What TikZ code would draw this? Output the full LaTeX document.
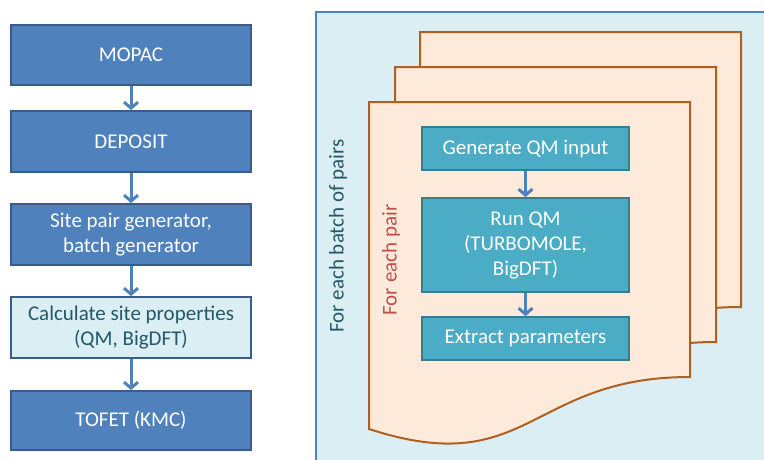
\documentclass[tikz,border=0pt]{standalone}
\usepackage{fontspec}
\setmainfont{Carlito}
\usetikzlibrary{arrows.meta,positioning}
\definecolor{boxblue}{HTML}{4F81BD}
\definecolor{boxline}{HTML}{385D8A}
\definecolor{paleblue}{HTML}{DBEEF4}
\definecolor{darkslate}{HTML}{215968}
\definecolor{pagefill}{HTML}{FDEADA}
\definecolor{pageline}{HTML}{B0601E}
\definecolor{tealbox}{HTML}{4BACC6}
\definecolor{tealline}{HTML}{357D91}
\definecolor{pairred}{HTML}{C0504D}
\tikzset{
  stage/.style={draw=boxline, line width=1.8pt, fill=boxblue, text=white,
    minimum width=240pt, minimum height=60pt, align=center, inner sep=0pt},
  lightstage/.style={stage, fill=paleblue, text=darkslate},
  qmstep/.style={draw=tealline, line width=1.8pt, fill=tealbox, text=white,
    minimum width=207pt, minimum height=43pt, align=center, inner sep=0pt},
  page/.style={draw=pageline, line width=2pt, fill=pagefill},
  flow/.style={draw=boxblue, line width=3pt, -{Straight Barb[length=6pt,width=14pt]}}
}
\begin{document}
\begin{tikzpicture}[x=1pt, y=-1pt, font=\fontsize{21}{25}\selectfont]
    \useasboundingbox (0,0) rectangle (764,459);

    % Left chain
    \node[stage] (mopac) at (131,55) {MOPAC};
    \node[stage, minimum height=61pt] (deposit) at (131,141.5) {DEPOSIT};
    \node[stage, minimum height=61pt] (pairgen) at (131,234.5) {Site pair generator,\\batch generator};
    \node[lightstage, minimum height=61pt] (siteprop) at (131,327.5) {Calculate site properties\\(QM, BigDFT)};
    \node[stage, minimum height=59pt] (tofet) at (131,420.5) {TOFET (KMC)};

    \draw[flow] (mopac) -- (deposit);
    \draw[flow] (deposit) -- (pairgen);
    \draw[flow] (pairgen) -- (siteprop);
    \draw[flow] (siteprop) -- (tofet);

    % Batch panel
    \draw[draw=boxblue, line width=1.8pt, fill=paleblue] (316,12) rectangle (780,475);
    \node[rotate=90, text=darkslate] (batchlabel) at (338,236) {For each batch of pairs};

    % Stacked pages
    \foreach \dx/\dy in {51/70, 26/35, 0/0} {
      \begin{scope}[shift={(\dx,-\dy)}]
        \draw[page] (369,102) -- (690,102) -- (690,377)
          .. controls (529,377) and (529,481) .. (369,429) -- cycle;
      \end{scope}
    }
    \node[rotate=90, text=pairred] (pairlabel) at (391,260) {For each pair};

    % QM steps
    \node[qmstep] (genqm) at (525.5,148.5) {Generate QM input};
    \node[qmstep, minimum height=94pt] (runqm) at (525.5,245) {Run QM\\(TURBOMOLE,\\BigDFT)};
    \node[qmstep] (extract) at (525.5,338.5) {Extract parameters};

    \draw[flow] (genqm) -- (runqm);
    \draw[flow] (runqm) -- (extract);
\end{tikzpicture}
\end{document}
